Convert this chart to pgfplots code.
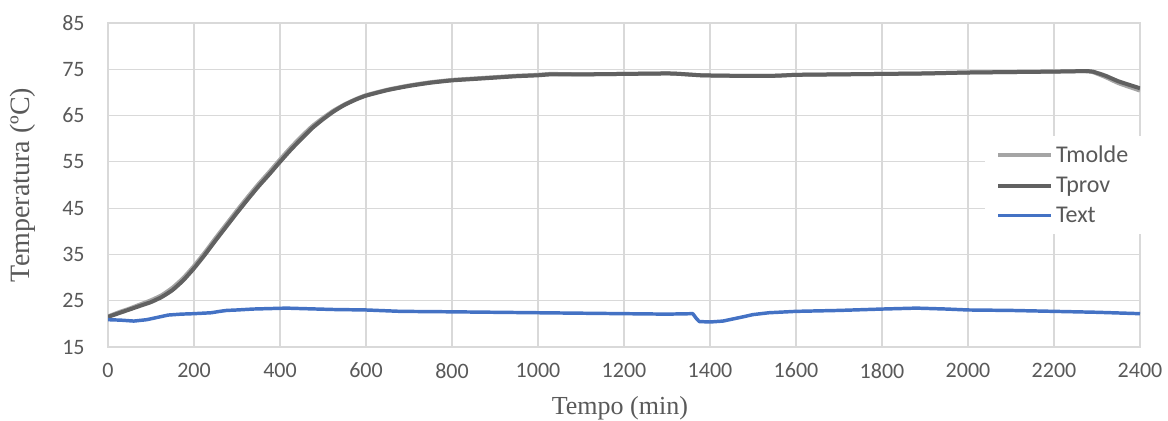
\documentclass[border=0pt]{standalone}
\usepackage{pgfplots}
\pgfplotsset{compat=1.18}
\usepackage{fontspec}
\setmainfont{Carlito}
\newfontfamily\serifx{Liberation Serif}
\definecolor{molde}{HTML}{A5A5A5}
\definecolor{prov}{HTML}{616161}
\definecolor{ext}{HTML}{4472C4}
\definecolor{txt}{HTML}{595959}
\definecolor{gridc}{HTML}{D9D9D9}
\begin{document}
\begin{tikzpicture}
\path[use as bounding box] (0,0) rectangle (876pt,315.75pt);
\begin{axis}[
  at={(81pt,55.5pt)}, anchor=south west,
  scale only axis, width=774pt, height=243pt,
  xmin=0, xmax=2400, ymin=15, ymax=85,
  xtick={0,200,...,2400}, ytick={15,25,...,85},
  grid=major, major grid style={draw=gridc, line width=0.9pt},
  axis line style={draw=gridc, line width=0.9pt},
  tick style={draw=none},
  /pgf/number format/assume math mode=true,
  /pgf/number format/1000 sep={},
  ticklabel style={font=\fontsize{16.5}{18}\selectfont, text=txt},
  xticklabel style={yshift=-8.5pt},
  yticklabel style={xshift=-14pt},
  xlabel={\serifx Tempo (min)},
  ylabel={\serifx Temperatura (ºC)},
  xlabel style={font=\fontsize{19.5}{21}\selectfont, text=txt, at={(axis description cs:0.496,-0.188)}, anchor=center},
  ylabel style={font=\fontsize{21}{23}\selectfont, text=txt, at={(axis description cs:-0.083,0.5)}, anchor=center, rotate=0},
  legend style={draw=none, fill=white, at={(0.85,0.651)}, anchor=north west,
    font=\fontsize{18}{20}\selectfont, text=txt, row sep=5.4pt, inner xsep=8pt, inner ysep=5pt},
  legend cell align=left,
  legend image code/.code={\draw[#1] (0pt,0pt) -- (40pt,0pt);},
]
\addplot[molde, line width=3pt, line join=round, smooth, tension=0.3] coordinates {
(0,21.6)(25,22.5)(50,23.3)(75,24.2)(100,25.1)(125,26.2)(150,27.8)(175,29.9)(200,32.5)
(225,35.4)(250,38.5)(275,41.5)(300,44.5)(325,47.4)(350,50.2)(375,52.8)(400,55.5)
(425,58.1)(450,60.5)(475,62.7)(500,64.5)(525,66.1)(550,67.4)(575,68.5)(600,69.4)
(650,70.6)(700,71.5)(750,72.2)(800,72.7)(850,73.0)(900,73.3)(950,73.6)(1000,73.8)
(1030,74.0)(1100,73.9)(1200,74.0)(1300,74.1)(1330,74.0)(1380,73.7)(1450,73.6)
(1550,73.6)(1600,73.8)(1700,73.9)(1800,74.0)(1900,74.1)(2000,74.3)(2100,74.4)
(2200,74.5)(2270,74.6)(2290,74.4)(2320,73.3)(2350,72.0)(2400,70.4)};
\addlegendentry{Tmolde}
\addplot[prov, line width=3pt, line join=round, smooth, tension=0.3] coordinates {
(0,21.5)(25,22.3)(50,23.1)(75,23.9)(100,24.7)(125,25.8)(150,27.3)(175,29.4)(200,32.0)
(225,34.9)(250,38.0)(275,41.0)(300,44.0)(325,46.9)(350,49.7)(375,52.3)(400,55.0)
(425,57.6)(450,60.0)(475,62.3)(500,64.2)(525,65.9)(550,67.3)(575,68.4)(600,69.3)
(650,70.5)(700,71.4)(750,72.1)(800,72.6)(850,72.9)(900,73.2)(950,73.5)(1000,73.7)
(1030,73.9)(1100,73.9)(1200,74.0)(1300,74.1)(1330,74.0)(1380,73.7)(1450,73.6)
(1550,73.6)(1600,73.8)(1700,73.9)(1800,74.0)(1900,74.1)(2000,74.3)(2100,74.4)
(2200,74.5)(2270,74.6)(2290,74.5)(2320,73.6)(2350,72.4)(2400,70.9)};
\addlegendentry{Tprov}
\addplot[ext, line width=2.6pt, line join=round] coordinates {
(0,20.9)(30,20.8)(60,20.6)(90,20.9)(120,21.5)(140,21.9)(170,22.1)(200,22.2)(240,22.4)
(260,22.7)(276,22.9)(300,23.0)(337,23.2)(415,23.4)(450,23.3)(525,23.1)(600,23.0)
(680,22.7)(800,22.6)(900,22.5)(1000,22.4)(1100,22.3)(1200,22.2)(1300,22.1)(1360,22.2)
(1368,21.2)(1375,20.5)(1400,20.4)(1430,20.6)(1476,21.5)(1500,22.0)(1537,22.4)
(1600,22.7)(1700,22.9)(1800,23.2)(1880,23.4)(1950,23.2)(2000,23.0)(2100,22.9)
(2200,22.7)(2300,22.5)(2400,22.2)};
\addlegendentry{Text}
\end{axis}
\end{tikzpicture}
\end{document}
